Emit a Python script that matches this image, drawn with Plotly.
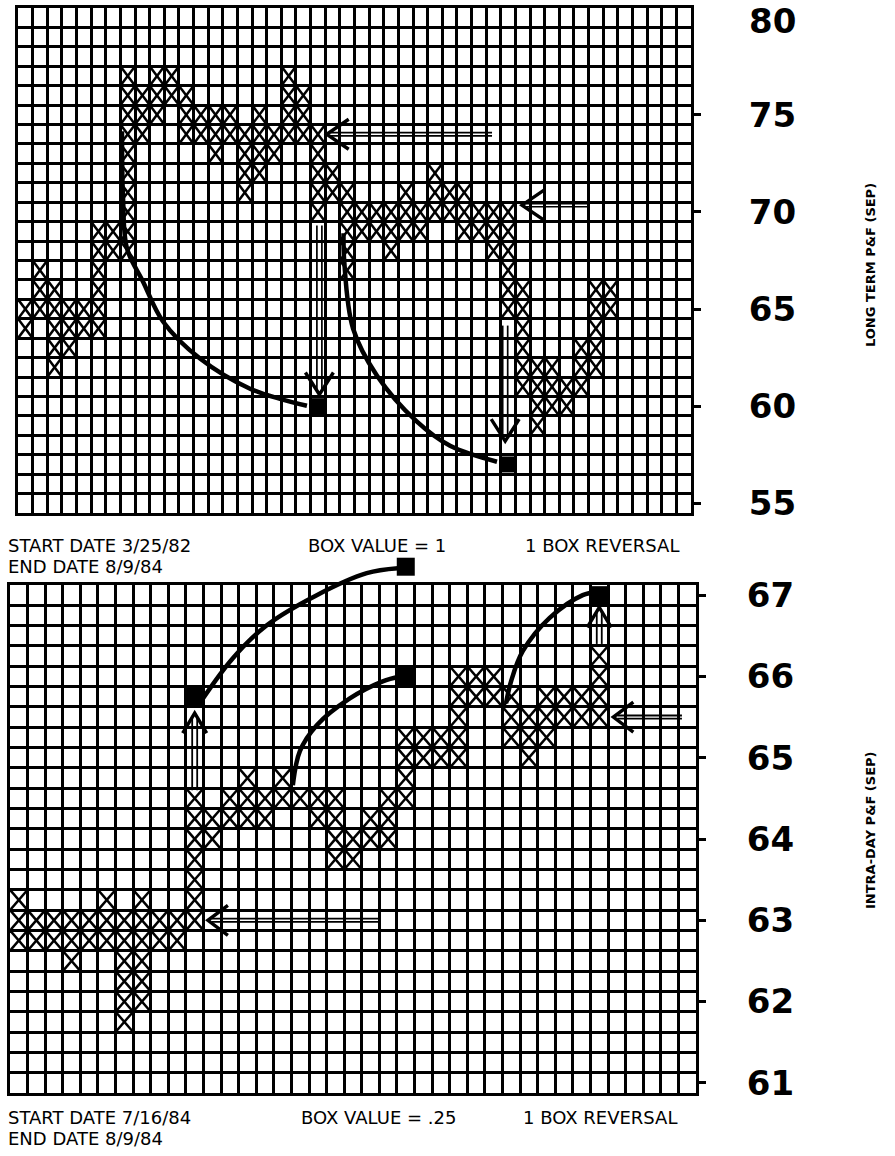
import math
import plotly.graph_objects as go

W, H = 895, 1156

# ---------------- data: long term chart (box value 1) ----------------
top_col_low = [64, 65, 62, 63, 64, 64, 68, 68, 74, 75, 76, 74, 74, 73, 74, 71, 72, 73, 74, 74,
               70, 71, 67, 69, 69, 68, 69, 69, 70, 70, 69, 69, 68, 65, 61, 59, 60, 60, 61, 62, 65]
top_col_high = [65, 67, 66, 65, 65, 69, 69, 77, 76, 77, 77, 76, 75, 75, 75, 74, 75, 74, 77, 76,
                74, 72, 71, 70, 70, 70, 71, 70, 72, 71, 71, 70, 70, 70, 66, 62, 62, 61, 63, 66, 66]
top_ticks = [55, 60, 65, 70, 75]
top_top_label = "80"            # top value, drawn at the upper edge of the frame
top_square_col = [20, 33]
top_square_val = [60, 57]
top_curve1_col = [6.61, 6.68, 6.95, 8.04, 9.41, 11.94, 15.36, 19.25]
top_curve1_val = [74.16, 70.70, 68.12, 66.42, 64.36, 62.45, 60.90, 60.02]
top_curve2_col = [21.75, 21.8, 22.4, 24.04, 26.77, 29.03, 32.24]
top_curve2_val = [68.9, 67.45, 64.0, 61.57, 59.2, 57.96, 57.14]
# arrows: tail -> tip
top_arrow_tail_col = [31.9, 38.4, 20.1, 32.8]
top_arrow_tail_val = [74, 70.35, 69.3, 64.15]
top_arrow_tip_col = [20.6, 33.95, 20.1, 32.8]
top_arrow_tip_val = [74, 70.35, 60.6, 58.2]

# ---------------- data: intra-day chart (box value .25) ----------------
bot_col_low = [62.75, 62.75, 62.75, 62.5, 62.75, 62.75, 61.75, 62.0, 62.75, 62.75, 63.0, 64.0,
               64.25, 64.25, 64.25, 64.5, 64.5, 64.25, 63.75, 63.75, 64.0, 64.0, 64.5, 65.0,
               65.0, 65.0, 65.75, 65.75, 65.25, 65.0, 65.25, 65.5, 65.5, 65.5]
bot_col_high = [63.25, 63.0, 63.0, 63.0, 63.0, 63.25, 63.0, 63.25, 63.0, 63.0, 64.5, 64.25,
                64.5, 64.75, 64.5, 64.75, 64.5, 64.5, 64.5, 64.0, 64.25, 64.5, 65.25, 65.25,
                65.25, 66.0, 66.0, 66.0, 65.75, 65.5, 65.75, 65.75, 65.75, 66.25]
bot_ticks = [61, 62, 63, 64, 65, 66, 67]
bot_square_col = [10, 22, 22, 33]
bot_square_val = [65.75, 67.35, 66.0, 67.0]
bot_curveA_col = [10.47, 12.17, 14.1, 16.94, 19.78, 21.55]
bot_curveA_val = [65.73, 66.225, 66.63, 67.0, 67.27, 67.33]
bot_curveC_col = [15.58, 15.98, 16.94, 18.82, 20.69, 21.66]
bot_curveC_val = [64.66, 65.08, 65.40, 65.73, 65.94, 66.0]
bot_curveD_col = [27.7, 28.0, 28.65, 30.18, 32.06, 32.85]
bot_curveD_val = [65.67, 65.95, 66.31, 66.72, 67.0, 67.04]
bot_arrow_tail_col = [20.5, 37.7, 10.0, 33.0]
bot_arrow_tail_val = [63.0, 65.5, 64.6, 66.4]
bot_arrow_tip_col = [10.75, 33.8, 10.0, 33.0]
bot_arrow_tip_val = [63.0, 65.5, 65.55, 66.85]

# ---------------- geometry (page pixels) ----------------
TOP_L, TOP_R, TOP_T, TOP_B = 18, 691, 8, 513
BOT_L, BOT_R, BOT_T, BOT_B = 10, 696, 585, 1093
EXT_T = 540                      # extra room above the lower frame for marks drawn outside it
TOP_NCOL, BOT_NCOL = 46, 39
TOP_SX = (TOP_R - TOP_L) / TOP_NCOL
TOP_SY = (TOP_B - TOP_T) / 26.0
BOT_SX = (BOT_R - BOT_L) / BOT_NCOL
BOT_SY = (BOT_B - BOT_T) / 6.25


def px_x(px):
    return px / W


def px_y(py):
    return 1 - py / H


def x_marks(lows, highs, step):
    xs, ys = [], []
    for c, (lo, hi) in enumerate(zip(lows, highs)):
        n = int(round((hi - lo) / step)) + 1
        for k in range(n):
            v = lo + k * step
            h = step / 2.0
            xs += [c - 0.5, c + 0.5, None, c - 0.5, c + 0.5, None]
            ys += [v - h, v + h, None, v + h, v - h, None]
    return xs, ys


def arrow(x0, y0, x1, y1, sx, sy, gap, hl, hw):
    dx, dy = (x1 - x0) * sx, (y1 - y0) * sy
    L = math.hypot(dx, dy)
    ux, uy = dx / L, dy / L
    px, py = -uy, ux
    shx, shy = [], []
    for s in (-gap, gap):
        shx += [x0 + s * px / sx, x1 - 4 * ux / sx + s * px / sx, None]
        shy += [y0 + s * py / sy, y1 - 4 * uy / sy + s * py / sy, None]
    hx = [x1 + (-hl * ux + hw * px) / sx, x1, x1 + (-hl * ux - hw * px) / sx, None]
    hy = [y1 + (-hl * uy + hw * py) / sy, y1, y1 + (-hl * uy - hw * py) / sy, None]
    return shx, shy, hx, hy


fig = go.Figure()

# X boxes
tx, ty = x_marks(top_col_low, top_col_high, 1.0)
fig.add_trace(go.Scatter(x=tx, y=ty, mode="lines", line=dict(color="black", width=2.5),
                         xaxis="x", yaxis="y", hoverinfo="skip"))
bx, by = x_marks(bot_col_low, bot_col_high, 0.25)
fig.add_trace(go.Scatter(x=bx, y=by, mode="lines", line=dict(color="black", width=2.5),
                         xaxis="x2", yaxis="y2", hoverinfo="skip"))

# curves
for cx, cy in [(top_curve1_col, top_curve1_val), (top_curve2_col, top_curve2_val)]:
    fig.add_trace(go.Scatter(x=cx, y=cy, mode="lines", line=dict(color="black", width=4.5, shape="spline"),
                             xaxis="x", yaxis="y", hoverinfo="skip"))
for cx, cy in [(bot_curveA_col, bot_curveA_val), (bot_curveC_col, bot_curveC_val),
               (bot_curveD_col, bot_curveD_val)]:
    fig.add_trace(go.Scatter(x=cx, y=cy, mode="lines", line=dict(color="black", width=4.5, shape="spline"),
                             xaxis="x3", yaxis="y3", hoverinfo="skip"))

# arrows
for i in range(len(top_arrow_tail_col)):
    vert = top_arrow_tail_col[i] == top_arrow_tip_col[i]
    shx, shy, hx, hy = arrow(top_arrow_tail_col[i], top_arrow_tail_val[i], top_arrow_tip_col[i],
                             top_arrow_tip_val[i], TOP_SX, TOP_SY,
                             gap=2.5 if vert else 1.6, hl=22, hw=14 if vert else 15)
    fig.add_trace(go.Scatter(x=shx, y=shy, mode="lines", line=dict(color="black", width=1.7),
                             xaxis="x", yaxis="y", hoverinfo="skip"))
    fig.add_trace(go.Scatter(x=hx, y=hy, mode="lines", line=dict(color="black", width=3.4),
                             xaxis="x", yaxis="y", hoverinfo="skip"))
for i in range(len(bot_arrow_tail_col)):
    vert = bot_arrow_tail_col[i] == bot_arrow_tip_col[i]
    shx, shy, hx, hy = arrow(bot_arrow_tail_col[i], bot_arrow_tail_val[i], bot_arrow_tip_col[i],
                             bot_arrow_tip_val[i], BOT_SX, BOT_SY,
                             gap=2.5 if vert else 1.6, hl=20, hw=12 if vert else 15)
    fig.add_trace(go.Scatter(x=shx, y=shy, mode="lines", line=dict(color="black", width=1.8),
                             xaxis="x3", yaxis="y3", hoverinfo="skip"))
    fig.add_trace(go.Scatter(x=hx, y=hy, mode="lines", line=dict(color="black", width=3.4),
                             xaxis="x3", yaxis="y3", hoverinfo="skip"))

# squares
fig.add_trace(go.Scatter(x=top_square_col, y=top_square_val, mode="markers",
                         marker=dict(symbol="square", size=16, color="black"),
                         xaxis="x", yaxis="y", hoverinfo="skip"))
fig.add_trace(go.Scatter(x=bot_square_col, y=bot_square_val, mode="markers",
                         marker=dict(symbol="square", size=18, color="black"),
                         xaxis="x3", yaxis="y3", hoverinfo="skip"))

tick_font = dict(family="DejaVu Sans", size=34, color="black", weight="bold")

xcommon = dict(showticklabels=False, ticks="", tickmode="linear", tick0=-0.5, dtick=1,
               showgrid=True, gridcolor="black", gridwidth=3, zeroline=False, automargin=False,
               showline=True, mirror=True, linecolor="black", linewidth=3, fixedrange=True)
ycommon = dict(side="right", tickmode="array", ticks="outside", ticklen=7, tickwidth=3,
               tickcolor="black", tickfont=tick_font, showgrid=False, zeroline=False,
               automargin=False, ticklabeloverflow="allow",
               showline=True, mirror=True, linecolor="black", linewidth=3, fixedrange=True)

ext_top = 67.125 + (BOT_T - EXT_T) / BOT_SY

fig.update_layout(
    width=W, height=H, margin=dict(l=0, r=0, t=0, b=0, autoexpand=False),
    paper_bgcolor="white", plot_bgcolor="rgba(0,0,0,0)", showlegend=False,
    xaxis=dict(domain=[px_x(TOP_L), px_x(TOP_R)], range=[-0.5, TOP_NCOL - 0.5], anchor="y", **xcommon),
    yaxis=dict(domain=[px_y(TOP_B), px_y(TOP_T)], range=[54.5, 80.5], anchor="x",
               tickvals=top_ticks, ticktext=[str(t) for t in top_ticks], ticklabelstandoff=41,
               minor=dict(tickvals=[54.5 + k for k in range(27)], showgrid=True,
                          gridcolor="black", gridwidth=3, ticks=""), **ycommon),
    xaxis2=dict(domain=[px_x(BOT_L), px_x(BOT_R)], range=[-0.5, BOT_NCOL - 0.5], anchor="y2", **xcommon),
    yaxis2=dict(domain=[px_y(BOT_B), px_y(BOT_T)], range=[60.875, 67.125], anchor="x2",
                tickvals=bot_ticks, ticktext=[str(t) for t in bot_ticks], ticklabelstandoff=34,
                minor=dict(tickvals=[60.875 + 0.25 * k for k in range(26)], showgrid=True,
                           gridcolor="black", gridwidth=3, ticks=""), **ycommon),
    xaxis3=dict(domain=[px_x(BOT_L), px_x(BOT_R)], range=[-0.5, BOT_NCOL - 0.5], anchor="y3",
                visible=False, fixedrange=True, automargin=False),
    yaxis3=dict(domain=[px_y(BOT_B), px_y(EXT_T)], range=[60.875, ext_top], anchor="x3",
                visible=False, fixedrange=True, automargin=False),
)

# top value label of the long-term scale, kept inside the page
fig.add_annotation(text=top_top_label, x=px_x(749), y=px_y(21), xref="paper", yref="paper",
                   xanchor="left", yanchor="middle", showarrow=False, font=tick_font,
                   borderpad=0, borderwidth=0)

txt_font = dict(family="DejaVu Sans", size=18, color="black")


def add_text(s, px, py, anchor="left"):
    fig.add_annotation(text=s, x=px_x(px), y=px_y(py), xref="paper", yref="paper",
                       xanchor=anchor, yanchor="middle", showarrow=False, font=txt_font,
                       borderpad=0, borderwidth=0)


add_text("START DATE 3/25/82", 8, 545)
add_text("BOX VALUE = 1", 377, 545, "center")
add_text("1 BOX REVERSAL", 602, 545, "center")
add_text("END DATE 8/9/84", 8, 566)
add_text("START DATE 7/16/84", 8, 1117)
add_text("BOX VALUE = .25", 378, 1117, "center")
add_text("1 BOX REVERSAL", 600, 1117, "center")
add_text("END DATE 8/9/84", 8, 1138)

side_font = dict(family="DejaVu Sans", size=13, color="black", weight="bold")
fig.add_annotation(text="LONG TERM P&F (SEP)", x=px_x(870), y=px_y(265), xref="paper", yref="paper",
                   xanchor="center", yanchor="middle", textangle=-90, showarrow=False, font=side_font)
fig.add_annotation(text="INTRA-DAY P&F (SEP)", x=px_x(870), y=px_y(830), xref="paper", yref="paper",
                   xanchor="center", yanchor="middle", textangle=-90, showarrow=False, font=side_font)

# pin the figure to the top-left corner of the page (no default body margin, no scrolling)
pin = ("document.body.style.margin='0';document.body.style.overflow='hidden';"
       "var g=document.getElementById('{plot_id}');g.style.position='fixed';"
       "g.style.left='0px';g.style.top='0px';")
fig.write_html("out.html", post_script=pin, config={"displayModeBar": False, "staticPlot": True})
